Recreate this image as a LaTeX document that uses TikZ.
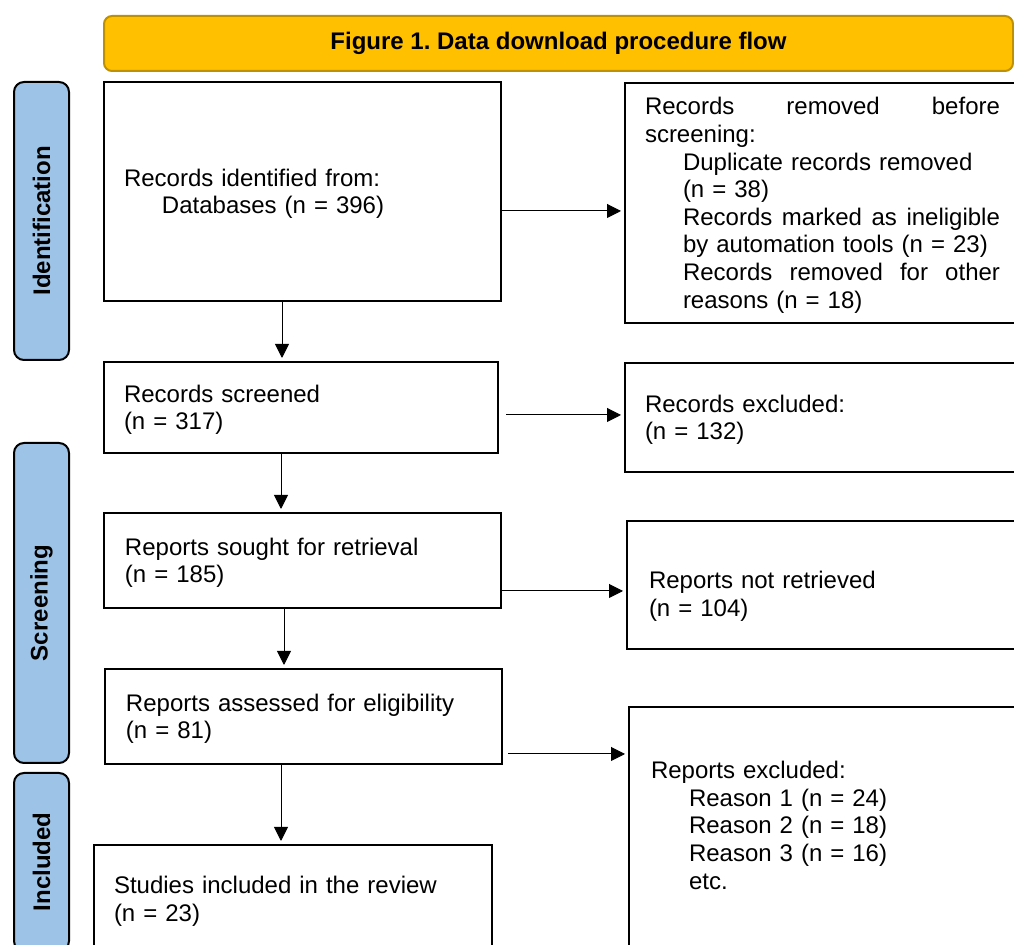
\documentclass[tikz,border=0pt]{standalone}
\usepackage{fontspec}
\setmainfont{Liberation Sans}
\usepackage{xcolor}
\usepackage{tikz}
\usetikzlibrary{calc, positioning, arrows.meta}
\frenchspacing
\definecolor{headgold}{RGB}{255,192,0}
\definecolor{headedge}{RGB}{191,144,0}
\definecolor{phaseblue}{RGB}{157,195,230}
\tikzset{
    stepbox/.style={rectangle, draw=black, line width=1pt, fill=white, align=left, anchor=north west, inner xsep=10pt, inner ysep=0pt, font=\fontsize{12}{13.8}\selectfont},
    phase/.style={rectangle, rounded corners=5pt, draw=black, line width=1pt, fill=phaseblue, inner sep=0pt, rotate=90, font=\fontsize{12}{13.8}\selectfont\bfseries},
    title/.style={rectangle, rounded corners=4pt, draw=headedge, line width=1pt, fill=headgold, anchor=north west, font=\fontsize{12}{13.8}\selectfont\bfseries},
    arrow/.style={-{Triangle[length=7pt, width=7pt]}, line width=0.5pt, shorten >=1.5pt}
}

\begin{document}
\begin{tikzpicture}[x=0.5pt, y=-0.5pt]
        \clip (0,0) rectangle (1014,945);

        % Header
        \node[title, minimum width=454.5pt, minimum height=27.5pt] (head) at (103,15) {Figure 1. Data download procedure flow};

        % Phases
        \node[phase, minimum width=139pt, minimum height=27.5pt] (ident) at (41.5,221) {Identification};
        \node[phase, minimum width=160pt, minimum height=27.5pt] (screen) at (41.5,603) {Screening};
        \node[phase, minimum width=89pt, minimum height=27.5pt] (incl) at (41.5,862) {Included};

        % Main column
        \node[stepbox, minimum height=109.5pt, text width=178.5pt] (found) at (103,81) {\rule{0pt}{11pt}Records identified from:\\\hspace*{19pt}Databases (n = 396)};
        \node[stepbox, minimum height=45.5pt, text width=177pt] (screened) at (103,361) {\rule{0pt}{11pt}Records screened\\(n = 317)};
        \node[stepbox, minimum height=47.5pt, text width=177.5pt, inner xsep=10.5pt] (sought) at (103,512) {\rule{0pt}{11pt}Reports sought for retrieval\\(n = 185)};
        \node[stepbox, minimum height=47.5pt, text width=177.5pt, inner xsep=10.5pt] (assessed) at (104,668) {\rule{0pt}{11pt}Reports assessed for eligibility\\(n = 81)};
        \node[stepbox, minimum height=54pt, text width=179pt] (included) at (93,844) {\rule{0pt}{11pt}Studies included in the review\\(n = 23)};

        % Side column
        \node[stepbox, minimum height=120pt, text width=183pt] (removed) at (624,82) {\rule{0pt}{11pt}\makebox[177.5pt][l]{Records\hfill removed\hfill before}\\screening:\\\hspace*{19pt}Duplicate records removed\\\hspace*{19pt}(n = 38)\\\hspace*{19pt}\makebox[158.5pt][l]{Records\hfill marked\hfill as\hfill ineligible}\\\hspace*{19pt}by automation tools (n = 23)\\\hspace*{19pt}\makebox[158.5pt][l]{Records\hfill removed\hfill for\hfill other}\\\hspace*{19pt}reasons (n = 18)};
        \node[stepbox, minimum height=54.5pt, text width=183pt] (excluded) at (624,362) {\rule{0pt}{11pt}Records excluded:\\(n = 132)};
        \node[stepbox, minimum height=64pt, text width=180pt, inner xsep=11pt] (notret) at (626,520) {\rule{0pt}{20pt}Reports not retrieved\\(n = 104)};
        \node[stepbox, minimum height=120pt, text width=179pt, inner xsep=11pt] (repexcl) at (628,706) {\rule{0pt}{11pt}Reports excluded:\\\hspace*{19pt}Reason 1 (n = 24)\\\hspace*{19pt}Reason 2 (n = 18)\\\hspace*{19pt}Reason 3 (n = 16)\\\hspace*{19pt}etc.\rule[-4pt]{0pt}{4pt}};

        % Edges down
        \draw[arrow] (found.south -| 282,0) -- (screened.north -| 282,0);
        \draw[arrow] (screened.south -| 281,0) -- (sought.north -| 281,0);
        \draw[arrow] (sought.south -| 284,0) -- (assessed.north -| 284,0);
        \draw[arrow] (assessed.south -| 281,0) -- (included.north -| 281,0);

        % Edges across
        \draw[arrow] (found.east |- 0,211) -- (removed.west |- 0,211);
        \draw[arrow, shorten <=3.5pt] (screened.east |- 0,415) -- (excluded.west |- 0,415);
        \draw[arrow] (sought.east |- 0,591) -- (notret.west |- 0,591);
        \draw[arrow, shorten <=2.5pt] (assessed.east |- 0,754) -- (repexcl.west |- 0,754);

    \end{tikzpicture}
\end{document}
